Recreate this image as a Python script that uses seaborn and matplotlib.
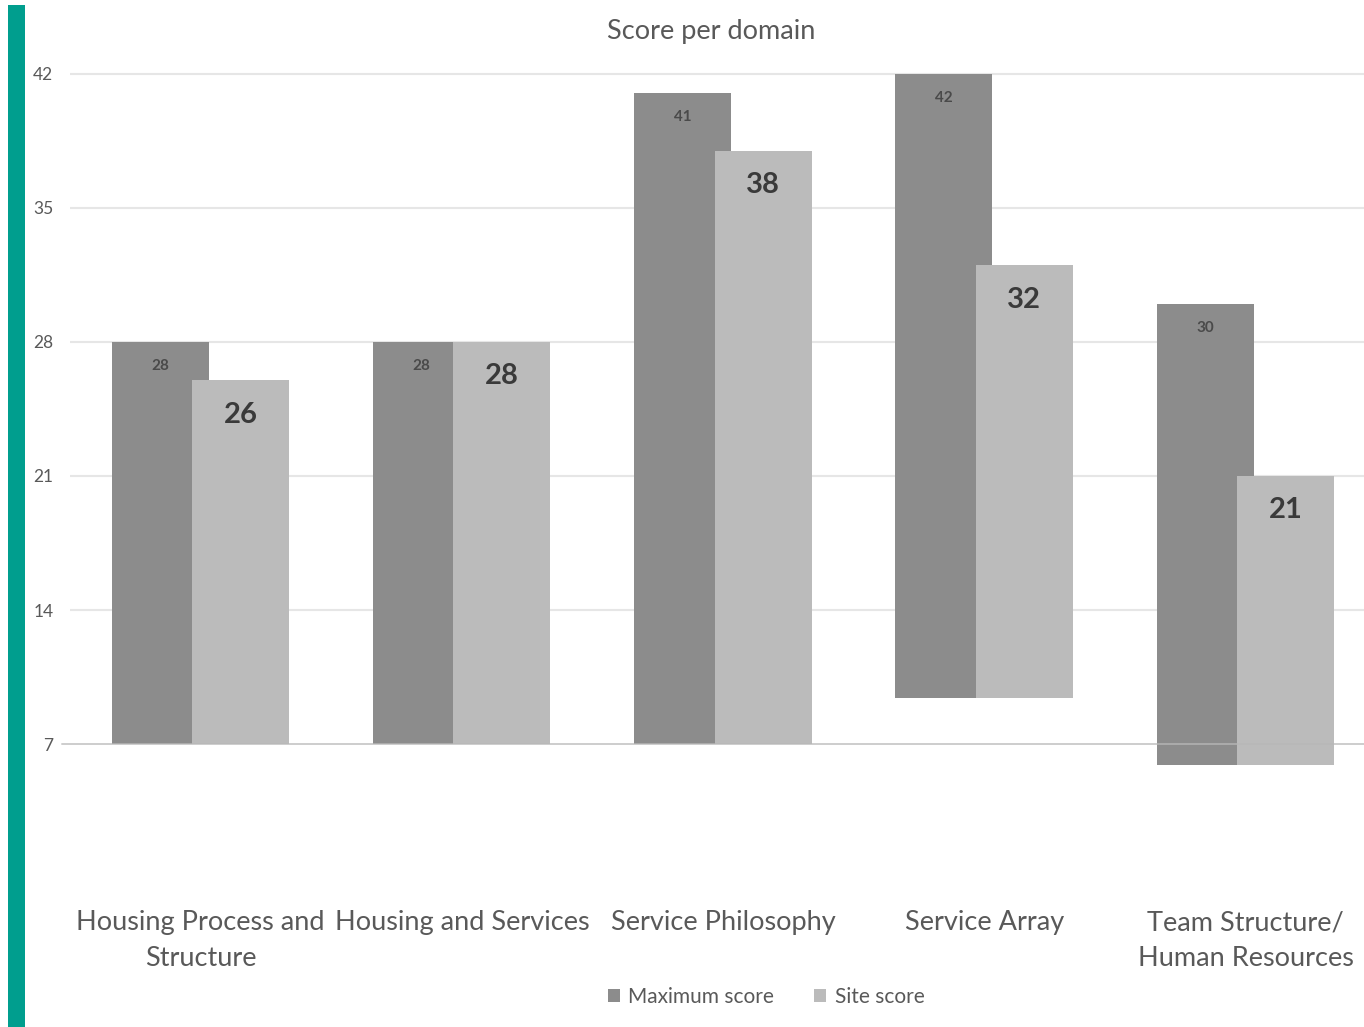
import numpy as np
import pandas as pd
import matplotlib
matplotlib.use("Agg")
import matplotlib.pyplot as plt
from matplotlib.patches import Rectangle, Patch
import seaborn as sns

# ---- data ----
domains = ["Housing Process and\nStructure", "Housing and Services", "Service Philosophy",
           "Service Array", "Team Structure/\nHuman Resources"]
max_score = [28, 28, 41, 42, 30]
site_score = [26, 28, 38, 32, 21]
bar_bottom = [7, 7, 7, 9.4, 5.9]   # bars start at uneven baselines in the original
series = ["Maximum score", "Site score"]
yticks = [7, 14, 21, 28, 35, 42]

df = pd.DataFrame({
    "domain": domains * 2,
    "series": [series[0]] * len(domains) + [series[1]] * len(domains),
    "value": max_score + site_score,
})

DARK = "#8C8C8C"
LIGHT = "#BBBBBB"
TXT = "#595959"

sns.set_theme(style="white")
plt.rcParams["font.family"] = ["Lato", "DejaVu Sans"]

W, H = 1364, 1027
fig = plt.figure(figsize=(W / 100, H / 100), dpi=100)
ax_bottom_px, ax_top_px = 782.3, 64.4
ax = fig.add_axes([70 / W, 1 - ax_bottom_px / H, 1 - 70 / W, (ax_bottom_px - ax_top_px) / H])

sns.barplot(data=df, x="domain", y="value", hue="series", palette=[DARK, LIGHT],
            ax=ax, legend=False, saturation=1, width=0.8, dodge=True)

# reposition bars: overlapping, uneven baselines
bw = 0.371
offsets = [-0.155, 0.153]
for k, cont in enumerate(ax.containers):
    vals = max_score if k == 0 else site_score
    for i, p in enumerate(cont.patches):
        p.set_x(i + offsets[k] - bw / 2)
        p.set_width(bw)
        p.set_y(bar_bottom[i])
        p.set_height(vals[i] - bar_bottom[i])
        p.set_edgecolor("none")
        p.set_zorder(2 + k)

# value labels
for i in range(len(domains)):
    ax.text(i + offsets[0], max_score[i] - 1.25, str(max_score[i]), ha="center", va="center",
            fontsize=11, fontweight="bold", color="#4a4a4a", zorder=5)
    ax.text(i + offsets[1], site_score[i] - 1.8, str(site_score[i]), ha="center", va="center",
            fontsize=21, fontweight="bold", color="#3a3a3a", zorder=5)

ax.set_xlim(-0.5, -0.5 + (W - 70) / 261.25)
ax.set_ylim(5, 42.5)
ax.set_yticks(yticks)
ax.set_yticklabels([str(t) for t in yticks])
for t in yticks:
    if t == 7:
        ax.axhline(t, color="#B8B8B8", lw=1.4, alpha=0.7, zorder=6, xmin=-0.006, clip_on=False)
    else:
        ax.axhline(t, color="#E6E6E6", lw=1.5, zorder=1)
ax.grid(False)
for s in ax.spines.values():
    s.set_visible(False)
ax.tick_params(axis="y", length=0, pad=12, labelsize=12.5, labelcolor=TXT)
ax.tick_params(axis="x", length=0, pad=92, labelsize=19.5, labelcolor=TXT)
for lab in ax.get_xticklabels():
    lab.set_linespacing(1.55)
    lab.set_multialignment("center")
ax.set_xlabel("")
ax.set_ylabel("")

# title
fig.text(711 / W, 1 - 32 / H, "Score per domain", ha="center", va="center", fontsize=19.5, color=TXT)

# legend
handles = [Patch(facecolor=DARK, edgecolor="none"), Patch(facecolor=LIGHT, edgecolor="none")]
fig.legend(handles, series, loc="center", bbox_to_anchor=(766 / W, 1 - 997 / H), ncol=2,
           frameon=False, fontsize=15, labelcolor=TXT, handlelength=0.6, handleheight=0.6,
           handletextpad=0.4, columnspacing=1.9)

# teal accent bar on the left
fig.patches.append(Rectangle((8 / W, 0), 17 / W, 1 - 5 / H, transform=fig.transFigure,
                             facecolor="#009E8E", edgecolor="none"))

fig.savefig("out.png", dpi=100, facecolor="white")
